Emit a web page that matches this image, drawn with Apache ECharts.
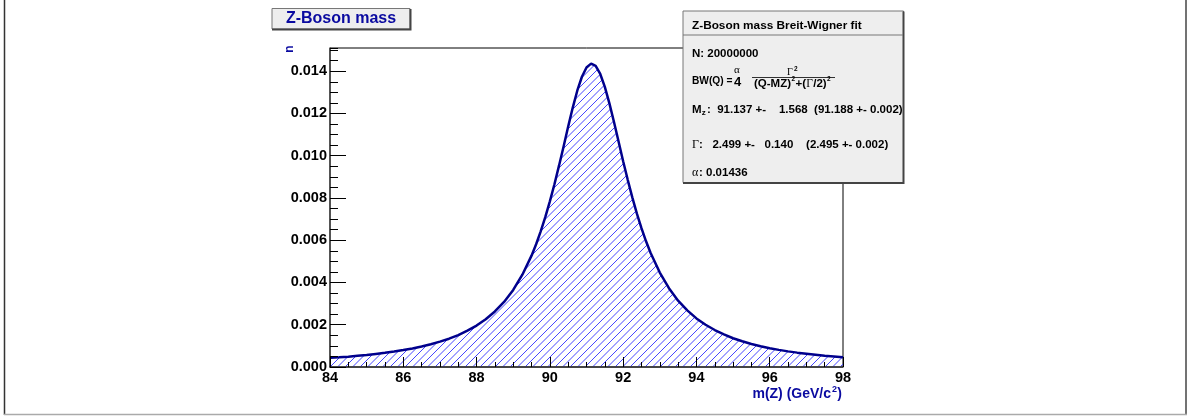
<!DOCTYPE html>
<html><head><meta charset="utf-8">
<script src="https://cdn.jsdelivr.net/npm/echarts@6/dist/echarts.min.js"></script>
<style>html,body{margin:0;padding:0;background:#fff}#c{width:1190px;height:416px}</style>
</head><body><div id="c"></div><script>
// ---- data ----
const massGeV = [84, 84.25, 84.5, 84.75, 85, 85.25, 85.5, 85.75, 86, 86.25, 86.5, 86.75, 87, 87.25, 87.5, 87.75,
  88, 88.25, 88.5, 88.75, 89, 89.25, 89.5, 89.625, 89.75, 89.875, 90, 90.125, 90.25, 90.375, 90.5, 90.625, 90.75, 90.875,
  91, 91.125, 91.25, 91.375, 91.5, 91.625, 91.75, 91.875, 92, 92.125, 92.25, 92.375, 92.5, 92.625, 92.75,
  93, 93.25, 93.5, 93.75, 94, 94.25, 94.5, 94.75, 95, 95.25, 95.5, 95.75, 96, 96.25, 96.5, 96.75, 97, 97.25, 97.5, 97.75, 98];
const counts = [0.00044, 0.00046, 0.00049, 0.00053, 0.00057, 0.00062, 0.00067, 0.00073, 0.00080, 0.00088, 0.00097, 0.00108, 0.00120, 0.00134, 0.00151, 0.00172,
  0.00196, 0.00226, 0.00263, 0.00308, 0.00365, 0.00437, 0.00527, 0.00581, 0.00642, 0.00709, 0.00784, 0.00865, 0.00953, 0.01044, 0.01138, 0.01228, 0.01309, 0.01374,
  0.01418, 0.01436, 0.01425, 0.01387, 0.01326, 0.01248, 0.01160, 0.01067, 0.00974, 0.00886, 0.00803, 0.00726, 0.00657, 0.00595, 0.00540,
  0.00447, 0.00373, 0.00314, 0.00268, 0.00230, 0.00200, 0.00175, 0.00154, 0.00136, 0.00122, 0.00109, 0.00098, 0.00089, 0.00081, 0.00074, 0.00068, 0.00063, 0.00058, 0.00053, 0.00050, 0.00046];
const xRange = [84, 98];
const yRange = [0, 0.0151];
const titleText = 'Z-Boson mass';
const statsTitle = 'Z-Boson mass Breit-Wigner fit';
const statsN = 'N: 20000000';
const statsM = ':  91.137 +-    1.568  (91.188 +- 0.002)';
const statsG = ':   2.499 +-   0.140    (2.495 +- 0.002)';
const statsA = ': 0.01436';

const F = '"Liberation Sans", Arial, Helvetica, sans-serif';
const SERIF = '"Liberation Serif", "DejaVu Serif", serif';
const blue = '#0a0aa0';
const HATCH_GAP = 7.5;

function txt(x, y, text, font, opts) {
  return Object.assign({ type: 'text', x: x, y: y, z: 200,
    style: Object.assign({ text: text, font: font, fill: '#000', textAlign: 'left', textVerticalAlign: 'middle' }, (opts||{}).style || {}) },
    (opts||{}).el || {});
}

// hatch fill under the histogram, computed in pixel space from the axes' own scales
function renderHatch(params, api) {
  const pts = massGeV.map((m, i) => api.coord([m, counts[i]]));
  const base = api.coord([xRange[0], yRange[0]])[1];
  const top = api.coord([xRange[0], yRange[1]])[1];
  const xL = pts[0][0], xR = pts[pts.length - 1][0];
  function curveY(x) {
    for (let i = 1; i < pts.length; i++) {
      if (x <= pts[i][0]) {
        const t = (x - pts[i-1][0]) / (pts[i][0] - pts[i-1][0]);
        return pts[i-1][1] + t * (pts[i][1] - pts[i-1][1]);
      }
    }
    return pts[pts.length - 1][1];
  }
  const children = [];
  const style = { stroke: '#4646ff', lineWidth: 1 };
  const span = base - top;
  const c0 = xL + base - Math.ceil(span / HATCH_GAP) * HATCH_GAP;
  for (let c = c0; c <= xR + base; c += HATCH_GAP) {
    // line: y = c - x  (rising to the right)
    let start = null, prev = null;
    const xa = Math.max(xL, c - base), xb = Math.min(xR, c - top);
    for (let x = xa; x <= xb + 0.001; x += 0.5) {
      const y = c - x;
      const inside = y <= base + 0.01 && y >= curveY(x);
      if (inside && start === null) start = [x, y];
      if (!inside && start !== null) {
        children.push({ type: 'line', shape: { x1: start[0], y1: start[1], x2: prev[0], y2: prev[1] }, style: style });
        start = null;
      }
      prev = [x, y];
    }
    if (start !== null && prev) children.push({ type: 'line', shape: { x1: start[0], y1: start[1], x2: prev[0], y2: prev[1] }, style: style });
  }
  return { type: 'group', children: children };
}

const chart = echarts.init(document.getElementById('c'), null, { renderer: 'canvas' });
const option = {
  animation: false,
  backgroundColor: '#fff',
  grid: { left: 330, top: 48, width: 513, height: 319, show: true, borderColor: '#000', borderWidth: 1, backgroundColor: 'transparent', containLabel: false },
  xAxis: [{
    type: 'value', min: xRange[0], max: xRange[1], interval: 2, position: 'bottom', z: 5,
    axisLine: { show: true, onZero: false, lineStyle: { color: '#333', width: 1.5 } },
    axisTick: { show: true, inside: true, length: 10, lineStyle: { color: '#000', width: 1 } },
    minorTick: { show: true, splitNumber: 4, length: 5, lineStyle: { color: '#000', width: 1 } },
    axisLabel: { show: true, margin: 3, color: '#000', fontSize: 14.5, fontWeight: 'bold', fontFamily: F, hideOverlap: false },
    splitLine: { show: false }, minorSplitLine: { show: false }
  }],
  yAxis: [{
    type: 'value', min: yRange[0], max: yRange[1], interval: 0.002, position: 'left', z: 5,
    axisLine: { show: true, onZero: false, lineStyle: { color: '#444', width: 1.5 } },
    axisTick: { show: true, inside: true, length: 16, lineStyle: { color: '#000', width: 1 } },
    axisLabel: { show: true, margin: 3, color: '#000', fontSize: 14.5, fontWeight: 'bold', fontFamily: F, showMaxLabel: false,
      formatter: v => v.toFixed(3) },
    splitLine: { show: false }
  }, {
    type: 'value', min: yRange[0], max: yRange[1], interval: 0.0005, position: 'left', z: 5,
    axisLine: { show: false },
    axisTick: { show: true, inside: true, length: 8, lineStyle: { color: '#000', width: 1 } },
    axisLabel: { show: false },
    splitLine: { show: false }
  }],
  series: [{
    type: 'custom', coordinateSystem: 'cartesian2d', xAxisIndex: 0, yAxisIndex: 0, z: 1, silent: true, clip: false,
    data: [[xRange[0], yRange[0]]],
    renderItem: renderHatch
  }, {
    type: 'line', xAxisIndex: 0, yAxisIndex: 0, z: 3,
    data: massGeV.map((m, i) => [m, counts[i]]),
    symbol: 'none', showSymbol: false, silent: true, smooth: false,
    lineStyle: { color: '#00008c', width: 2.5 }
  }],
  graphic: [
    // canvas frame
    { type: 'line', z: 150, shape: { x1: 4.5, y1: 0, x2: 4.5, y2: 415 }, style: { stroke: '#333', lineWidth: 1.5 } },
    { type: 'line', z: 150, shape: { x1: 1186, y1: 0, x2: 1186, y2: 415 }, style: { stroke: '#444', lineWidth: 1.5 } },
    { type: 'line', z: 150, shape: { x1: 4, y1: 414.5, x2: 1187, y2: 414.5 }, style: { stroke: '#aaa', lineWidth: 1.5 } },
    // title box
    { type: 'rect', z: 150, shape: { x: 272, y: 8.5, width: 138, height: 20.5 }, style: { fill: '#eeeeee', stroke: '#777', lineWidth: 1 } },
    { type: 'polyline', z: 151, shape: { points: [[410.5, 9], [410.5, 29.5], [272, 29.5]] }, style: { stroke: '#444', lineWidth: 2, fill: null } },
    txt(341, 18.5, titleText, 'bold 16px ' + F, { style: { fill: blue, textAlign: 'center' } }),
    // stats box
    { type: 'rect', z: 150, shape: { x: 683, y: 11, width: 220.5, height: 171.5 }, style: { fill: '#eeeeee', stroke: '#777', lineWidth: 1 } },
    { type: 'polyline', z: 151, shape: { points: [[903.5, 11.5], [903.5, 183], [683, 183]] }, style: { stroke: '#444', lineWidth: 2, fill: null } },
    { type: 'line', z: 151, shape: { x1: 683, y1: 35, x2: 903, y2: 35 }, style: { stroke: '#777', lineWidth: 1 } },
    txt(692, 25.5, statsTitle, 'bold 11.8px ' + F),
    txt(692, 53.7, statsN, 'bold 11.5px ' + F),
    // formula
    txt(692, 81.5, 'BW(Q) =', 'bold 10.2px ' + F),
    txt(737, 70.5, '\u03b1', '11px ' + SERIF, { style: { textAlign: 'center' } }),
    txt(737.5, 82, '4', 'bold 13px ' + F, { style: { textAlign: 'center' } }),
    txt(790, 72, '\u0393', '10px ' + SERIF, { style: { textAlign: 'center' } }),
    txt(794, 69.5, '2', 'bold 6.5px ' + F),
    { type: 'line', z: 201, shape: { x1: 752, y1: 77.5, x2: 835, y2: 77.5 }, style: { stroke: '#000', lineWidth: 0.8 } },
    txt(754, 83.5, '(Q-MZ)', 'bold 11.5px ' + F),
    txt(791.5, 79.5, '2', 'bold 6.5px ' + F),
    txt(795.5, 83.5, '+(', 'bold 11.5px ' + F),
    txt(806.2, 83.5, '\u0393', '11.5px ' + SERIF),
    txt(813.2, 83.5, '/2)', 'bold 11.5px ' + F),
    txt(827, 79.5, '2', 'bold 6.5px ' + F),
    // M_z line
    txt(692, 109.7, 'M', 'bold 11.5px ' + F),
    txt(701.7, 113, 'z', 'bold 8px ' + F),
    txt(707, 109.7, statsM, 'bold 11.5px ' + F),
    // Gamma line
    txt(692, 145.3, '\u0393', '12px ' + SERIF),
    txt(699, 145.3, statsG, 'bold 11.5px ' + F),
    // alpha line
    txt(692, 172.5, '\u03b1', '12px ' + SERIF),
    txt(699, 172.5, statsA, 'bold 11.5px ' + F),
    // axis titles
    txt(842, 394.5, ')', 'bold 14px ' + F, { style: { fill: blue, textAlign: 'right' } }),
    txt(837, 390, '2', 'bold 9px ' + F, { style: { fill: blue, textAlign: 'right' } }),
    txt(831, 394.5, 'm(Z) (GeV/c', 'bold 14px ' + F, { style: { fill: blue, textAlign: 'right' } }),
    txt(289.7, 49.2, 'n', 'bold 12px ' + F, { style: { fill: blue, textAlign: 'center' }, el: { rotation: Math.PI / 2 } })
  ]
};
chart.setOption(option);
</script></body></html>
